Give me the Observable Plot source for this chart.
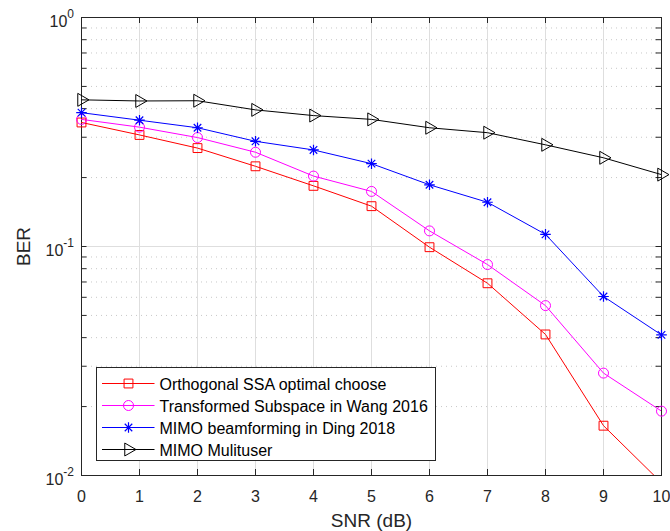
<!DOCTYPE html>
<html>
<head>
<meta charset="utf-8">
<script src="https://cdn.jsdelivr.net/npm/d3@7"></script>
<script src="https://cdn.jsdelivr.net/npm/@observablehq/plot@0.6"></script>
<style>
  html, body { margin: 0; padding: 0; background: #ffffff; }
  #chart { width: 670px; height: 531px; }
  #chart svg { display: block; }
</style>
</head>
<body>
<div id="chart"></div>
<script>
// ---------- data ----------
const snr = [0, 1, 2, 3, 4, 5, 6, 7, 8, 9, 10];
const berOrthogonalSSA   = [0.348, 0.307, 0.269, 0.224, 0.184, 0.150, 0.0993, 0.0691, 0.0413, 0.0165, 0.0093];
const berTransformedWang = [0.359, 0.332, 0.299, 0.258, 0.203, 0.174, 0.117, 0.0834, 0.0552, 0.0280, 0.0191];
const berMimoDing        = [0.384, 0.356, 0.330, 0.288, 0.264, 0.230, 0.186, 0.156, 0.113, 0.0605, 0.0411];
const berMimoMultiuser   = [0.437, 0.432, 0.433, 0.395, 0.373, 0.359, 0.330, 0.314, 0.278, 0.244, 0.206];
const seriesNames = [
  "Orthogonal SSA optimal choose",
  "Transformed Subspace in Wang 2016",
  "MIMO beamforming in Ding 2018",
  "MIMO Mulituser"
];
const xTickValues = [0, 1, 2, 3, 4, 5, 6, 7, 8, 9, 10];
const yMajorTicks = [0.01, 0.1, 1];
const yTickExponents = ["-2", "-1", "0"];
const yMinorTicks = [0.02, 0.03, 0.04, 0.05, 0.06, 0.07, 0.08, 0.09,
                     0.2, 0.3, 0.4, 0.5, 0.6, 0.7, 0.8, 0.9];
const xLabel = "SNR (dB)";
const yLabel = "BER";

// ---------- styles ----------
const W = 670, H = 531;
const mL = 81, mR = 9, mT = 17, mB = 56;
const innerW = W - mL - mR, innerH = H - mT - mB;
const axisColor = "#262626";
const font = "'Liberation Sans', Arial, Helvetica, sans-serif";
const seriesStyles = [
  {color: "#ff0000", symbol: "square", r: 5},
  {color: "#ff00ff", symbol: "circle", r: 5},
  {color: "#0000ff", symbol: "star", r: 3.5},
  {color: "#000000", symbol: "triangle", r: 4.8, rotate: 90}
];
const tickLen = 5.5;

const seriesValues = [berOrthogonalSSA, berTransformedWang, berMimoDing, berMimoMultiuser];
const series = seriesNames.map((name, i) => ({
  name,
  style: seriesStyles[i],
  rows: snr.map((x, j) => ({snr: x, ber: seriesValues[i][j]}))
}));

function markerMarks(rows, st) {
  const visible = rows.filter(d => d.ber >= 0.01 && d.ber <= 1);
  const base = {x: "snr", y: "ber", stroke: st.color, fill: "none", strokeWidth: 1};
  if (st.symbol === "star") {
    return [
      Plot.dot(visible, {...base, symbol: "plus", r: st.r, strokeWidth: 1.2}),
      Plot.dot(visible, {...base, symbol: "times", r: st.r, strokeWidth: 1.2})
    ];
  }
  return [Plot.dot(visible, {...base, symbol: st.symbol, r: st.r, rotate: st.rotate || 0})];
}

// y tick labels with superscript exponents
function yTickLabels(index, scales) {
  const y = (scales && scales.y) ? scales.y : d3.scaleLog([0.01, 1], [mT + innerH, mT]);
  const g = d3.create("svg:g").attr("font-family", font).attr("fill", axisColor);
  yMajorTicks.forEach((v, i) => {
    const t = g.append("text")
      .attr("x", mL - 7)
      .attr("y", y(v) + 9.5)
      .attr("text-anchor", "end")
      .attr("font-size", 16);
    t.append("tspan").text("10");
    t.append("tspan").attr("dy", -9).attr("font-size", 12).text(yTickExponents[i]);
  });
  return g.node();
}

// legend drawn inside the plot area
function legendMark() {
  const g = d3.create("svg:g").attr("font-family", font).attr("text-anchor", "start");
  const boxW = 339, boxH = 93;
  const left = mL + 15.5, top = mT + innerH - 14.5 - boxH;
  g.append("rect").attr("x", left).attr("y", top).attr("width", boxW).attr("height", boxH)
    .attr("fill", "#ffffff").attr("stroke", axisColor).attr("stroke-width", 1);
  series.forEach((s, i) => {
    const cy = top + 16 + i * 22;
    const st = s.style;
    g.append("line").attr("x1", left + 5.5).attr("x2", left + 58).attr("y1", cy).attr("y2", cy)
      .attr("stroke", st.color).attr("stroke-width", 1);
    const cx = left + 32;
    const sym = (type, r) => d3.symbol(type, Math.PI * r * r)();
    const addPath = (d, rot, sw) => g.append("path").attr("d", d)
      .attr("transform", `translate(${cx},${cy}) rotate(${rot || 0})`)
      .attr("fill", "none").attr("stroke", st.color).attr("stroke-width", sw || 1);
    if (st.symbol === "square") addPath(sym(d3.symbolSquare, st.r));
    else if (st.symbol === "circle") addPath(sym(d3.symbolCircle, st.r));
    else if (st.symbol === "triangle") addPath(sym(d3.symbolTriangle, st.r), st.rotate);
    else { addPath(sym(d3.symbolPlus, st.r), 0, 1.2); addPath(sym(d3.symbolTimes, st.r), 0, 1.2); }
    g.append("text").attr("x", left + 63).attr("y", cy + 6).attr("font-size", 16)
      .attr("text-anchor", "start").attr("fill", "#000000").text(s.name);
  });
  return g.node();
}

const marks = [
  // grid
  Plot.ruleY(yMinorTicks, {y: d => d, stroke: "#c8c8c8", strokeWidth: 1, strokeDasharray: "1,4"}),
  Plot.ruleX(xTickValues.slice(1, -1), {x: d => d, stroke: "#dedede", strokeWidth: 1}),
  Plot.ruleY(yMajorTicks.slice(1, -1), {y: d => d, stroke: "#dedede", strokeWidth: 1}),
  // box
  Plot.frame({stroke: axisColor, strokeWidth: 1}),
  // inward ticks
  Plot.ruleX(xTickValues, {x: d => d, y1: 1, y2: 0.01, insetTop: innerH - tickLen - 0.5, stroke: axisColor}),
  Plot.ruleX(xTickValues, {x: d => d, y1: 1, y2: 0.01, insetBottom: innerH - tickLen - 0.5, stroke: axisColor}),
  Plot.ruleY([...yMajorTicks, ...yMinorTicks], {y: d => d, x1: 0, x2: 10, insetRight: innerW - tickLen, stroke: axisColor}),
  Plot.ruleY([...yMajorTicks, ...yMinorTicks], {y: d => d, x1: 0, x2: 10, insetLeft: innerW - tickLen, stroke: axisColor}),
  // x tick labels
  Plot.text(xTickValues, {x: d => d, text: d => String(d), frameAnchor: "bottom", lineAnchor: "middle",
    textAnchor: "middle", dy: 21, fontSize: 16, fill: axisColor}),
  // y tick labels
  yTickLabels,
  // axis titles
  Plot.text([xLabel], {text: d => d, frameAnchor: "bottom", lineAnchor: "middle", textAnchor: "middle",
    dy: 45, fontSize: 19, fill: axisColor}),
  Plot.text([yLabel], {text: d => d, frameAnchor: "left", lineAnchor: "middle", textAnchor: "middle",
    dx: -57.3, rotate: -90, fontSize: 19, fill: axisColor}),
  // series lines and markers
  ...series.map(s => Plot.line(s.rows, {x: "snr", y: "ber", stroke: s.style.color, strokeWidth: 1, clip: true})),
  ...series.flatMap(s => markerMarks(s.rows, s.style)),
  // legend
  legendMark
];

const chart = Plot.plot({
  width: W,
  height: H,
  marginLeft: mL,
  marginRight: mR,
  marginTop: mT,
  marginBottom: mB,
  x: {domain: [0, 10], axis: null},
  y: {type: "log", domain: [0.01, 1], axis: null},
  style: {background: "#ffffff", fontFamily: font, overflow: "visible"},
  marks
});
document.getElementById("chart").appendChild(chart);
</script>
</body>
</html>
